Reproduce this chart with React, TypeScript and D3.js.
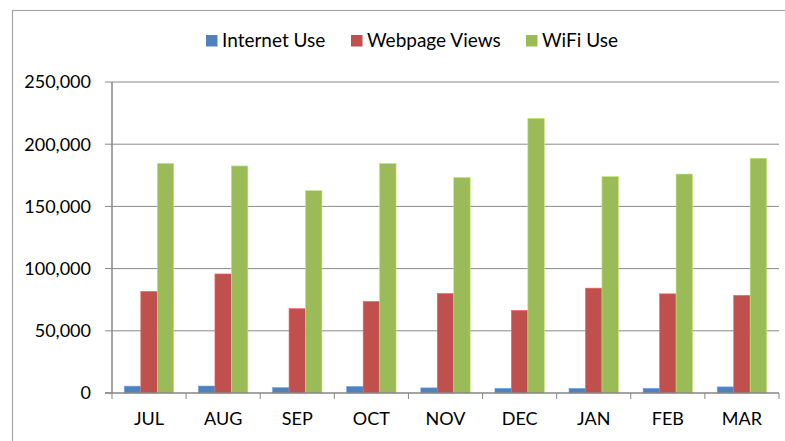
import React, { useEffect, useRef } from "react";
import * as d3 from "d3";

const months = ["JUL", "AUG", "SEP", "OCT", "NOV", "DEC", "JAN", "FEB", "MAR"];
const seriesNames = ["Internet Use", "Webpage Views", "WiFi Use"];
const seriesColors = ["#4F81BD", "#C0504D", "#9BBB59"];
const internetUse = [5500, 5600, 4300, 5200, 4100, 3700, 3700, 3700, 4900];
const webpageViews = [81700, 95700, 67800, 73600, 80000, 66400, 84300, 79700, 78500];
const wifiUse = [184600, 182500, 162600, 184500, 173200, 220700, 174000, 176000, 188700];
const yTicks = [0, 50000, 100000, 150000, 200000, 250000];

export default function App() {
  const svgRef = useRef<SVGSVGElement>(null);

  useEffect(() => {
    const w = 785;
    const h = 441;
    const svg = d3.select(svgRef.current);
    svg.selectAll("*").remove();

    const font = "Lato, 'Open Sans', sans-serif";
    const left = 112, right = 779, top = 82, bottom = 393;

    // outer chart frame (runs off the right/bottom edge)
    svg.append("rect")
      .attr("x", 12.5).attr("y", 10.5)
      .attr("width", w + 20).attr("height", h + 20)
      .attr("fill", "#fff")
      .attr("stroke", "#a6a6a6")
      .attr("stroke-width", 1.2);

    const x0 = d3.scaleBand().domain(months).range([left, right]).padding(0);
    const step = x0.bandwidth();
    const gap = step * 0.167;
    const x1 = d3.scaleBand().domain(seriesNames).range([gap, step - gap]).padding(0);
    const y = d3.scaleLinear().domain([0, 250000]).range([bottom, top]);

    // gridlines + y ticks
    const grid = svg.append("g");
    yTicks.forEach(t => {
      if (t > 0) {
        grid.append("line")
          .attr("x1", left).attr("x2", right)
          .attr("y1", y(t)).attr("y2", y(t))
          .attr("stroke", "#8a8a8a").attr("stroke-width", 1);
      }
      grid.append("line")
        .attr("x1", left - 7).attr("x2", left)
        .attr("y1", y(t)).attr("y2", y(t))
        .attr("stroke", "#8a8a8a").attr("stroke-width", 1);
      grid.append("text")
        .attr("x", 91).attr("y", y(t))
        .attr("dy", "0.35em")
        .attr("text-anchor", "end")
        .style("font-family", font)
        .style("font-size", "18px")
        .attr("fill", "#000")
        .text(d3.format(",")(t));
    });

    // bars
    const data = [internetUse, webpageViews, wifiUse];
    seriesNames.forEach((name, s) => {
      svg.append("g")
        .selectAll("rect")
        .data(data[s])
        .join("rect")
        .attr("x", (d, i) => x0(months[i])! + x1(name)!)
        .attr("y", d => y(d))
        .attr("width", x1.bandwidth())
        .attr("height", d => bottom - y(d))
        .attr("fill", seriesColors[s])
        .attr("stroke", d3.color(seriesColors[s])!.brighter(0.6).toString())
        .attr("stroke-width", 0.6);
    });

    // axes
    svg.append("line")
      .attr("x1", left).attr("x2", left)
      .attr("y1", top).attr("y2", bottom)
      .attr("stroke", "#868686").attr("stroke-width", 1.5);
    svg.append("line")
      .attr("x1", left - 7).attr("x2", right)
      .attr("y1", bottom).attr("y2", bottom)
      .attr("stroke", "#868686").attr("stroke-width", 1.5);
    const catTicks = months.map(m => x0(m)!).concat([right]);
    catTicks.forEach(cx => {
      svg.append("line")
        .attr("x1", cx).attr("x2", cx)
        .attr("y1", bottom).attr("y2", bottom + 6)
        .attr("stroke", "#868686").attr("stroke-width", 1);
    });
    months.forEach(m => {
      svg.append("text")
        .attr("x", x0(m)! + step / 2)
        .attr("y", 425)
        .attr("text-anchor", "middle")
        .style("font-family", font)
        .style("font-size", "18px")
        .text(m);
    });

    // legend
    const legendX = [206, 351, 526];
    seriesNames.forEach((name, s) => {
      svg.append("rect")
        .attr("x", legendX[s]).attr("y", 35)
        .attr("width", 11.5).attr("height", 11.5)
        .attr("fill", seriesColors[s]);
      svg.append("text")
        .attr("x", legendX[s] + 16).attr("y", 47)
        .style("font-family", font)
        .style("font-size", "19px")
        .text(name);
    });
  }, []);

  return (
    <div style={{ position: "absolute", left: 0, top: 0 }}>
      <svg ref={svgRef} width={785} height={441} style={{ display: "block" }}></svg>
    </div>
  );
}
